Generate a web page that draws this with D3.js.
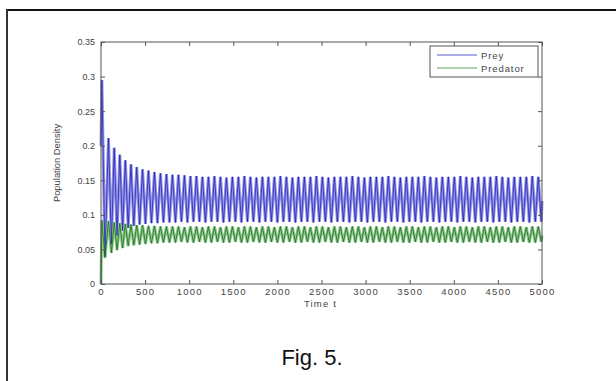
<!DOCTYPE html>
<html>
<head>
<meta charset="utf-8">
<script src="https://cdn.jsdelivr.net/npm/d3@7"></script>
<style>
  html, body { margin: 0; padding: 0; background: #fff; }
  svg { display: block; font-family: "Liberation Sans", Arial, sans-serif; }
</style>
</head>
<body>
<svg id="chart" width="616" height="381"></svg>
<script>
// ---------- data ----------
const xTicks = [0, 500, 1000, 1500, 2000, 2500, 3000, 3500, 4000, 4500, 5000];
const yTicks = [0, 0.05, 0.1, 0.15, 0.2, 0.25, 0.3, 0.35];
const yTickLabels = ["0", "0.05", "0.1", "0.15", "0.2", "0.25", "0.3", "0.35"];
const seriesNames = ["Prey", "Predator"];

const startTime = 0;
const endTime = 5000;
const preyStart = 0.2, preyEnd = 0.12;
const predStart = 0.0, predEnd = 0.07;

const peakTimes = [
  10, 85, 150, 213, 276, 340, 405, 471, 538, 606, 674,
  742, 810, 878, 946, 1014, 1082, 1150, 1218, 1286, 1354,
  1422, 1490, 1558, 1626, 1694, 1762, 1830, 1898, 1966, 2034,
  2102, 2170, 2238, 2306, 2374, 2442, 2510, 2578, 2646, 2714,
  2782, 2850, 2918, 2986, 3054, 3122, 3190, 3258, 3326, 3394,
  3462, 3530, 3598, 3666, 3734, 3802, 3870, 3938, 4006, 4074,
  4142, 4210, 4278, 4346, 4414, 4482, 4550, 4618, 4686, 4754,
  4822, 4890, 4958
];
const troughTimes = [
  45, 118, 182, 245, 308, 372, 438, 504, 572, 640, 708,
  776, 844, 912, 980, 1048, 1116, 1184, 1252, 1320, 1388,
  1456, 1524, 1592, 1660, 1728, 1796, 1864, 1932, 2000, 2068,
  2136, 2204, 2272, 2340, 2408, 2476, 2544, 2612, 2680, 2748,
  2816, 2884, 2952, 3020, 3088, 3156, 3224, 3292, 3360, 3428,
  3496, 3564, 3632, 3700, 3768, 3836, 3904, 3972, 4040, 4108,
  4176, 4244, 4312, 4380, 4448, 4516, 4584, 4652, 4720, 4788,
  4856, 4924, 4992
];
const preyPeaks = [
  0.295, 0.211, 0.197, 0.187, 0.179, 0.173, 0.169, 0.166, 0.164, 0.162, 0.160,
  0.159, 0.158, 0.158, 0.157, 0.156, 0.156, 0.155, 0.155, 0.156, 0.155,
  0.154, 0.155, 0.155, 0.156, 0.155, 0.154, 0.155, 0.155, 0.155, 0.156,
  0.155, 0.154, 0.155, 0.155, 0.155, 0.156, 0.155, 0.154, 0.155, 0.155,
  0.155, 0.156, 0.155, 0.154, 0.155, 0.155, 0.155, 0.156, 0.155, 0.154,
  0.155, 0.155, 0.155, 0.156, 0.155, 0.154, 0.155, 0.155, 0.155, 0.156,
  0.155, 0.154, 0.155, 0.155, 0.155, 0.156, 0.155, 0.154, 0.155, 0.155,
  0.155, 0.156, 0.155
];
const preyTroughs = [
  0.040, 0.058, 0.070, 0.077, 0.081, 0.084, 0.086, 0.087, 0.088, 0.088, 0.089,
  0.089, 0.089, 0.090, 0.089, 0.090, 0.090, 0.089, 0.090, 0.090, 0.089,
  0.090, 0.090, 0.089, 0.090, 0.090, 0.089, 0.090, 0.090, 0.089, 0.090,
  0.090, 0.089, 0.090, 0.090, 0.089, 0.090, 0.090, 0.089, 0.090, 0.090,
  0.089, 0.090, 0.090, 0.089, 0.090, 0.090, 0.089, 0.090, 0.090, 0.089,
  0.090, 0.090, 0.089, 0.090, 0.090, 0.089, 0.090, 0.090, 0.089, 0.090,
  0.090, 0.089, 0.090, 0.090, 0.089, 0.090, 0.090, 0.089, 0.090, 0.090,
  0.089, 0.090, 0.090
];
const predPeaks = [
  0.092, 0.091, 0.089, 0.088, 0.087, 0.086, 0.085, 0.085, 0.084, 0.084, 0.083,
  0.083, 0.083, 0.083, 0.082, 0.083, 0.083, 0.082, 0.083, 0.083, 0.082,
  0.083, 0.083, 0.082, 0.083, 0.083, 0.082, 0.083, 0.083, 0.082, 0.083,
  0.083, 0.082, 0.083, 0.083, 0.082, 0.083, 0.083, 0.082, 0.083, 0.083,
  0.082, 0.083, 0.083, 0.082, 0.083, 0.083, 0.082, 0.083, 0.083, 0.082,
  0.083, 0.083, 0.082, 0.083, 0.083, 0.082, 0.083, 0.083, 0.082, 0.083,
  0.083, 0.082, 0.083, 0.083, 0.082, 0.083, 0.083, 0.082, 0.083, 0.083,
  0.082, 0.083, 0.083
];
const predTroughs = [
  0.038, 0.045, 0.049, 0.052, 0.055, 0.056, 0.057, 0.058, 0.059, 0.059, 0.060,
  0.060, 0.060, 0.061, 0.060, 0.060, 0.061, 0.060, 0.060, 0.061, 0.060,
  0.060, 0.061, 0.060, 0.060, 0.061, 0.060, 0.060, 0.061, 0.060, 0.060,
  0.061, 0.060, 0.060, 0.061, 0.060, 0.060, 0.061, 0.060, 0.060, 0.061,
  0.060, 0.060, 0.061, 0.060, 0.060, 0.061, 0.060, 0.060, 0.061, 0.060,
  0.060, 0.061, 0.060, 0.060, 0.061, 0.060, 0.060, 0.061, 0.060, 0.060,
  0.061, 0.060, 0.060, 0.061, 0.060, 0.060, 0.061, 0.060, 0.060, 0.061,
  0.060, 0.060, 0.061
];

// ---------- build series from the arrays ----------
function buildSeries(t0, v0, peaks, troughs, t1, v1) {
  const pts = [[t0, v0]];
  for (let i = 0; i < peakTimes.length; i++) {
    pts.push([peakTimes[i], peaks[i]]);
    pts.push([troughTimes[i], troughs[i]]);
  }
  pts.push([t1, v1]);
  return pts;
}
const prey = buildSeries(startTime, preyStart, preyPeaks, preyTroughs, endTime, preyEnd);
const predator = buildSeries(startTime, predStart, predPeaks, predTroughs, endTime, predEnd);

// ---------- layout ----------
const svg = d3.select("#chart");
const m = { left: 101, right: 542, top: 42, bottom: 284 };
const x = d3.scaleLinear().domain([0, 5000]).range([m.left, m.right]);
const y = d3.scaleLinear().domain([0, 0.35]).range([m.bottom, m.top]);

// outer frame (top and left edges visible)
svg.append("line").attr("x1", 6).attr("x2", 616).attr("y1", 10).attr("y2", 10)
  .attr("stroke", "#111").attr("stroke-width", 2);
svg.append("line").attr("x1", 7).attr("x2", 7).attr("y1", 9).attr("y2", 381)
  .attr("stroke", "#333").attr("stroke-width", 2);

// series: soft wide under-stroke + thin dark stroke (blurred MATLAB look)
const line = d3.line().x(d => x(d[0])).y(d => y(d[1]));
const series = [
  { data: prey, soft: "#9696e6", dark: "#2323b8" },
  { data: predator, soft: "#8fc98f", dark: "#1d6e1d" }
];
series.forEach(s => {
  svg.append("path").datum(s.data).attr("d", line)
    .attr("fill", "none").attr("stroke", s.soft).attr("stroke-width", 3)
    .attr("stroke-linejoin", "miter").attr("stroke-miterlimit", 2);
});
series.forEach(s => {
  svg.append("path").datum(s.data).attr("d", line)
    .attr("fill", "none").attr("stroke", s.dark).attr("stroke-width", 0.8);
});

// axes box
const axisColor = "#555";
svg.append("rect").attr("x", m.left).attr("y", m.top)
  .attr("width", m.right - m.left).attr("height", m.bottom - m.top)
  .attr("fill", "none").attr("stroke", axisColor).attr("stroke-width", 1);

// ticks: inward on all sides (MATLAB style)
const bottomAxis = d3.axisBottom(x).tickValues(xTicks).tickSizeInner(-4).tickSizeOuter(0).tickPadding(4)
  .tickFormat(d3.format("d"));
const topAxis = d3.axisTop(x).tickValues(xTicks).tickSizeInner(-4).tickSizeOuter(0).tickFormat("");
const leftAxis = d3.axisLeft(y).tickValues(yTicks).tickSizeInner(-4).tickSizeOuter(0).tickPadding(6)
  .tickFormat((d, i) => yTickLabels[i]);
const rightAxis = d3.axisRight(y).tickValues(yTicks).tickSizeInner(-4).tickSizeOuter(0).tickFormat("");

function style(g) {
  g.select(".domain").remove();
  g.selectAll(".tick line").attr("stroke", axisColor);
  g.selectAll(".tick text").attr("fill", "#444").attr("font-family", "'Liberation Sans', Arial, sans-serif");
}
svg.append("g").attr("transform", `translate(0,${m.bottom})`).call(bottomAxis).call(style)
  .selectAll(".tick text").attr("font-size", 9.5).attr("letter-spacing", 1.2);
svg.append("g").attr("transform", `translate(0,${m.top})`).call(topAxis).call(style);
svg.append("g").attr("transform", `translate(${m.left},0)`).call(leftAxis).call(style)
  .selectAll(".tick text").attr("font-size", 9);
svg.append("g").attr("transform", `translate(${m.right},0)`).call(rightAxis).call(style);

// axis titles
svg.append("text").attr("x", (m.left + m.right) / 2 - 1).attr("y", 307)
  .attr("text-anchor", "middle").attr("font-size", 9.5).attr("letter-spacing", 1.2)
  .attr("fill", "#444").text("Time t");
svg.append("text").attr("transform", `translate(60,${(m.top + m.bottom) / 2}) rotate(-90)`)
  .attr("text-anchor", "middle").attr("font-size", 9.4).attr("fill", "#444")
  .text("Population Density");

// legend
const lg = svg.append("g");
lg.append("rect").attr("x", 430).attr("y", 46).attr("width", 108).attr("height", 31)
  .attr("fill", "#fff").attr("stroke", axisColor).attr("stroke-width", 1);
const legendColors = ["#5a5ad0", "#5aa05a"];
seriesNames.forEach((name, i) => {
  const yy = 55 + i * 13;
  lg.append("line").attr("x1", 437).attr("x2", 477).attr("y1", yy).attr("y2", yy)
    .attr("stroke", legendColors[i]).attr("stroke-width", 1);
  lg.append("text").attr("x", 481).attr("y", yy + 3.5).attr("font-size", 9.5)
    .attr("letter-spacing", 0.9).attr("fill", "#444").text(name);
});

// caption
svg.append("text").attr("x", 312).attr("y", 365).attr("text-anchor", "middle")
  .attr("font-size", 22).attr("fill", "#111").text("Fig. 5.");
</script>
</body>
</html>
